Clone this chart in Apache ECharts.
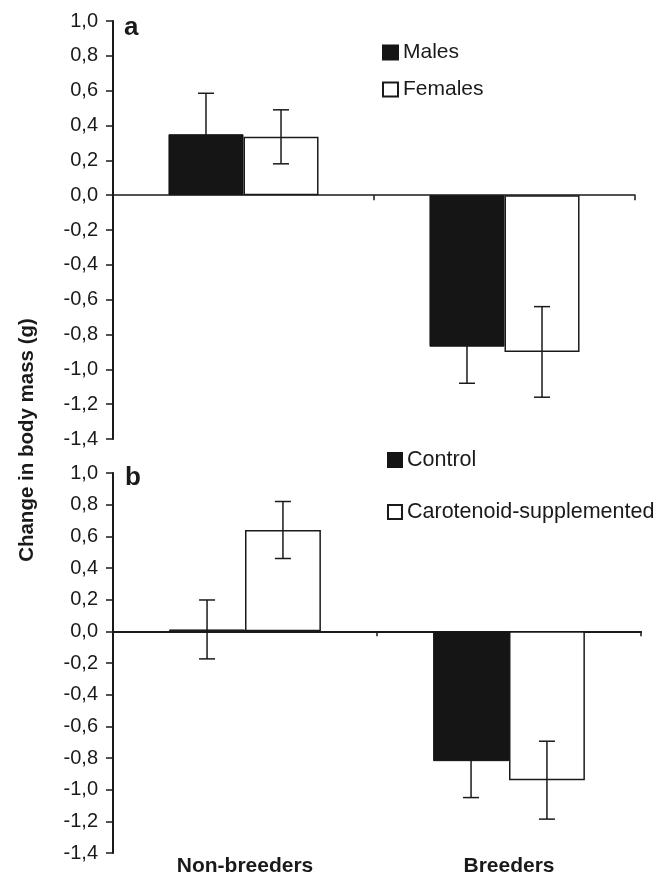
<!DOCTYPE html>
<html>
<head>
<meta charset="utf-8">
<script src="https://cdn.jsdelivr.net/npm/echarts@6/dist/echarts.min.js"></script>
<style>html,body{margin:0;padding:0;background:#fff;}#c{width:668px;height:877px;}</style>
</head>
<body>
<div id="c"></div>
<script>
// ---- data ----
const categories = ['Non-breeders', 'Breeders'];
// panel a
const males = [0.35, -0.87];
const malesErr = [0.235, 0.21];
const females = [0.335, -0.90];
const femalesErr = [0.155, 0.26];
// panel b
const control = [0.012, -0.82];
const controlErr = [0.186, 0.23];
const carot = [0.64, -0.94];
const carotErr = [0.18, 0.246];
const yTicksMin = -1.4, yTicksMax = 1.0, yTickStep = 0.2;

const FONT = "'Liberation Sans', Arial, Helvetica, sans-serif";
const INK = '#1a1a1a';
const BLACK_FILL = '#151515';
const GAP = 0.425;

function fmt(v) {
  if (Math.abs(v) < 1e-9) return '0,0';
  return v.toFixed(1).replace('.', ',');
}

function errData(vals, errs, si) {
  return vals.map((v, i) => [i, v - errs[i], v + errs[i], si]);
}

function renderErr(params, api) {
  const ci = api.value(0), lo = api.value(1), hi = api.value(2), si = api.value(3);
  const center = api.coord([ci, 0])[0];
  const band = api.size([1, 0])[0];
  const bw = band * (1 - GAP) / 2;
  const x = center + (si - 0.5) * bw;
  const yLo = api.coord([ci, lo])[1];
  const yHi = api.coord([ci, hi])[1];
  const cap = 8;
  const st = { stroke: INK, lineWidth: 1.5 };
  return {
    type: 'group',
    children: [
      { type: 'line', shape: { x1: x, y1: yLo, x2: x, y2: yHi }, style: st },
      { type: 'line', shape: { x1: x - cap, y1: yHi, x2: x + cap, y2: yHi }, style: st },
      { type: 'line', shape: { x1: x - cap, y1: yLo, x2: x + cap, y2: yLo }, style: st }
    ]
  };
}

function yAxisFor(gi) {
  return {
    type: 'value', gridIndex: gi, min: yTicksMin, max: yTicksMax, interval: yTickStep,
    axisLine: { show: true, lineStyle: { color: INK, width: 2 } },
    axisTick: { show: true, length: 7, lineStyle: { color: INK, width: 1.5 } },
    splitLine: { show: false },
    axisLabel: { formatter: fmt, fontFamily: FONT, fontSize: 20, color: INK, margin: 15 }
  };
}

function xAxisFor(gi, w) {
  return {
    type: 'category', gridIndex: gi, data: categories,
    axisLine: { show: true, onZero: true, lineStyle: { color: INK, width: w } },
    axisTick: { show: true, length: 5, interval: 0, lineStyle: { color: INK, width: 1.5 } },
    axisLabel: { show: false }
  };
}

const blackStyle = { color: BLACK_FILL, borderColor: BLACK_FILL, borderWidth: 1 };
const whiteStyle = { color: '#ffffff', borderColor: INK, borderWidth: 1.5 };
const gapStr = (GAP * 100) + '%';

const option = {
  animation: false,
  backgroundColor: '#ffffff',
  grid: [
    { left: 113, top: 21, right: 33, bottom: 438 },
    { left: 113, top: 473, right: 27, bottom: 23 }
  ],
  xAxis: [
    xAxisFor(0, 1.5),
    xAxisFor(1, 2),
    {
      type: 'category', gridIndex: 1, data: categories, position: 'bottom',
      axisLine: { show: false, onZero: false }, axisTick: { show: false },
      axisLabel: { fontFamily: FONT, fontSize: 21, fontWeight: 'bold', color: INK, margin: 3 }
    }
  ],
  yAxis: [yAxisFor(0), yAxisFor(1)],
  legend: [
    {
      data: ['Males', 'Females'], orient: 'vertical', left: 382, top: 42, padding: 0,
      itemWidth: 15, itemHeight: 14, itemGap: 16, icon: 'rect',
      textStyle: { fontFamily: FONT, fontSize: 21, color: INK }
    },
    {
      data: ['Control', 'Carotenoid-supplemented'], orient: 'vertical', left: 387, top: 449, padding: 0,
      itemWidth: 14, itemHeight: 14, itemGap: 30, icon: 'rect',
      textStyle: { fontFamily: FONT, fontSize: 21.5, color: INK }
    }
  ],
  graphic: [
    {
      type: 'text', x: 27, y: 440, rotation: Math.PI / 2,
      style: { text: 'Change in body mass (g)', font: "bold 20.5px " + FONT, fill: INK, align: 'center', verticalAlign: 'middle' }
    },
    { type: 'text', x: 124, y: 28, style: { text: 'a', font: "bold 26px " + FONT, fill: INK, align: 'left', verticalAlign: 'middle' } },
    { type: 'text', x: 125, y: 478, style: { text: 'b', font: "bold 26px " + FONT, fill: INK, align: 'left', verticalAlign: 'middle' } }
  ],
  series: [
    { name: 'Males', type: 'bar', xAxisIndex: 0, yAxisIndex: 0, data: males, itemStyle: blackStyle, barGap: '0%', barCategoryGap: gapStr, z: 2 },
    { name: 'Females', type: 'bar', xAxisIndex: 0, yAxisIndex: 0, data: females, itemStyle: whiteStyle, barGap: '0%', barCategoryGap: gapStr, z: 2 },
    { name: 'Control', type: 'bar', xAxisIndex: 1, yAxisIndex: 1, data: control, itemStyle: blackStyle, barGap: '0%', barCategoryGap: gapStr, z: 2 },
    { name: 'Carotenoid-supplemented', type: 'bar', xAxisIndex: 1, yAxisIndex: 1, data: carot, itemStyle: whiteStyle, barGap: '0%', barCategoryGap: gapStr, z: 2 },
    // error bars of dark series sit behind their bars (hidden inside the fill)
    { type: 'custom', xAxisIndex: 0, yAxisIndex: 0, renderItem: renderErr, data: errData(males, malesErr, 0), z: 1 },
    { type: 'custom', xAxisIndex: 0, yAxisIndex: 0, renderItem: renderErr, data: errData(females, femalesErr, 1), z: 5 },
    { type: 'custom', xAxisIndex: 1, yAxisIndex: 1, renderItem: renderErr, data: errData(control, controlErr, 0), z: 1 },
    { type: 'custom', xAxisIndex: 1, yAxisIndex: 1, renderItem: renderErr, data: errData(carot, carotErr, 1), z: 5 }
  ]
};

const chart = echarts.init(document.getElementById('c'), null, { renderer: 'canvas' });
chart.setOption(option);
</script>
</body>
</html>
